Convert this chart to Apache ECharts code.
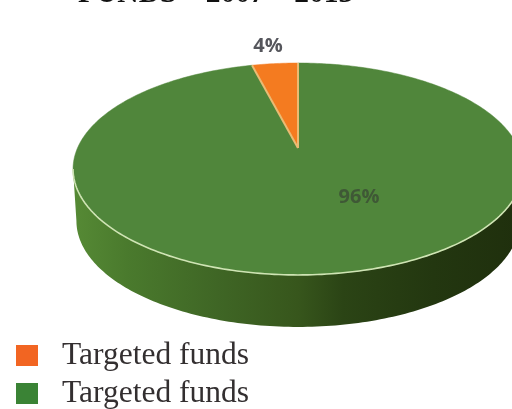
<!DOCTYPE html>
<html>
<head>
<meta charset="utf-8">
<style>html,body{margin:0;padding:0;background:#fff}#chart{width:512px;height:409px}</style>
<script src="https://cdn.jsdelivr.net/npm/echarts@6/dist/echarts.min.js"></script>
</head>
<body>
<div id="chart"></div>
<script>
// Share of funds, in percent
const titleText = 'FUNDS – 2007 – 2013';
const categories = ['Targeted funds', 'Targeted funds'];
const shares = [4, 96];
const sliceColors = ['#f47b20', '#50863b'];
const swatchColors = ['#f26522', '#3a8335'];

// Tilted disc: a circle seen in perspective, extruded downwards
const disc = { apexX: 298, apexY: 148, sx: 220.5, sy: 101.8, persp: 0.198, depth: 52 };
const rad = d => d * Math.PI / 180;

function rimPoint(deg, drop, shrink) {
  const t = rad(deg), k = 1 + disc.persp * Math.cos(t);
  return [
    disc.apexX + shrink * disc.sx * Math.sin(t) / k,
    disc.apexY - disc.sy * Math.cos(t) / k + drop
  ];
}
function arc(from, to, drop, shrink) {
  const pts = [], n = Math.max(2, Math.ceil(Math.abs(to - from)));
  for (let i = 0; i <= n; i++) pts.push(rimPoint(from + (to - from) * i / n, drop || 0, shrink || 1));
  return pts;
}

const chart = echarts.init(document.getElementById('chart'), null, { renderer: 'canvas' });
const total = shares.reduce((a, b) => a + b, 0);
const firstAngle = -shares[0] / total * 360; // the first slice ends at twelve o'clock

// Front wall spans the part of the rim below the widest point of the ellipse
const frontFrom = 101.4, frontTo = 258.6;
const wallGradient = new echarts.graphic.LinearGradient(0, 0, 1, 0, [
  { offset: 0, color: '#568a35' },
  { offset: 0.12, color: '#4a7a2d' },
  { offset: 0.32, color: '#3f6625' },
  { offset: 0.5, color: '#37561c' },
  { offset: 0.6, color: '#2b4415' },
  { offset: 0.8, color: '#233710' },
  { offset: 1, color: '#1f2f0d' }
]);

function renderSlice(params, api) {
  const idx = params.dataIndex;
  const before = shares.slice(0, idx).reduce((a, b) => a + b, 0);
  const a0 = firstAngle + before / total * 360;
  const a1 = a0 + api.value(0) / total * 360;
  const children = [];

  // side wall, clipped to the visible front of this slice
  const f = Math.max(a0, frontFrom), g = Math.min(a1, frontTo);
  if (g > f) {
    const top = arc(f, g);
    const bottom = arc(g, f, disc.depth, 0.985);
    children.push({
      type: 'polygon', shape: { points: top.concat(bottom) },
      style: { fill: wallGradient }
    });
  }

  // top face
  children.push({
    type: 'polygon',
    shape: { points: [[disc.apexX, disc.apexY]].concat(arc(a0, a1)) },
    style: { fill: sliceColors[idx], stroke: sliceColors[idx], lineWidth: 0.5 }
  });

  // pale edge along the front of the rim
  if (g > f) {
    children.push({
      type: 'polyline', shape: { points: arc(f, g) },
      style: { fill: null, stroke: '#cfe4b4', lineWidth: 1.6 }
    });
  }

  // separators of the small wedge go on top of both faces
  if (idx === shares.length - 1) {
    [firstAngle, firstAngle + shares[0] / total * 360].forEach(a => {
      children.push({
        type: 'polyline',
        shape: { points: [[disc.apexX, disc.apexY], rimPoint(a, 0, 1)] },
        style: { fill: null, stroke: '#e9bb74', lineWidth: 2 }
      });
    });
  }

  // value label
  const labelPos = idx === 0 ? [268, 46] : [359, 197];
  children.push({
    type: 'text', x: labelPos[0], y: labelPos[1],
    style: {
      text: api.value(0) + '%', align: 'center', verticalAlign: 'middle',
      font: 'bold 20px "Open Sans", sans-serif', fill: idx === 0 ? '#55565c' : '#3f5836'
    }
  });

  // key entry
  const rowY = 355 + idx * 38;
  children.push({
    type: 'rect', shape: { x: 16, y: rowY - 10, width: 22, height: 21 },
    style: { fill: swatchColors[idx] }
  });
  children.push({
    type: 'text', x: 62, y: rowY + 1,
    style: {
      text: categories[idx], align: 'left', verticalAlign: 'middle',
      font: '31.5px "Liberation Serif", serif', fill: '#332f30'
    }
  });
  return { type: 'group', children };
}

chart.setOption({
  animation: false,
  backgroundColor: '#ffffff',
  title: {
    text: titleText, left: 78, top: -21, padding: 0,
    textStyle: { fontFamily: '"Liberation Serif", serif', fontSize: 29.5, fontWeight: 'bold', color: '#111' }
  },
  series: [{
    type: 'custom',
    coordinateSystem: 'none',
    renderItem: renderSlice,
    data: shares.map(v => [v]),
    silent: true
  }]
});
</script>
</body>
</html>
